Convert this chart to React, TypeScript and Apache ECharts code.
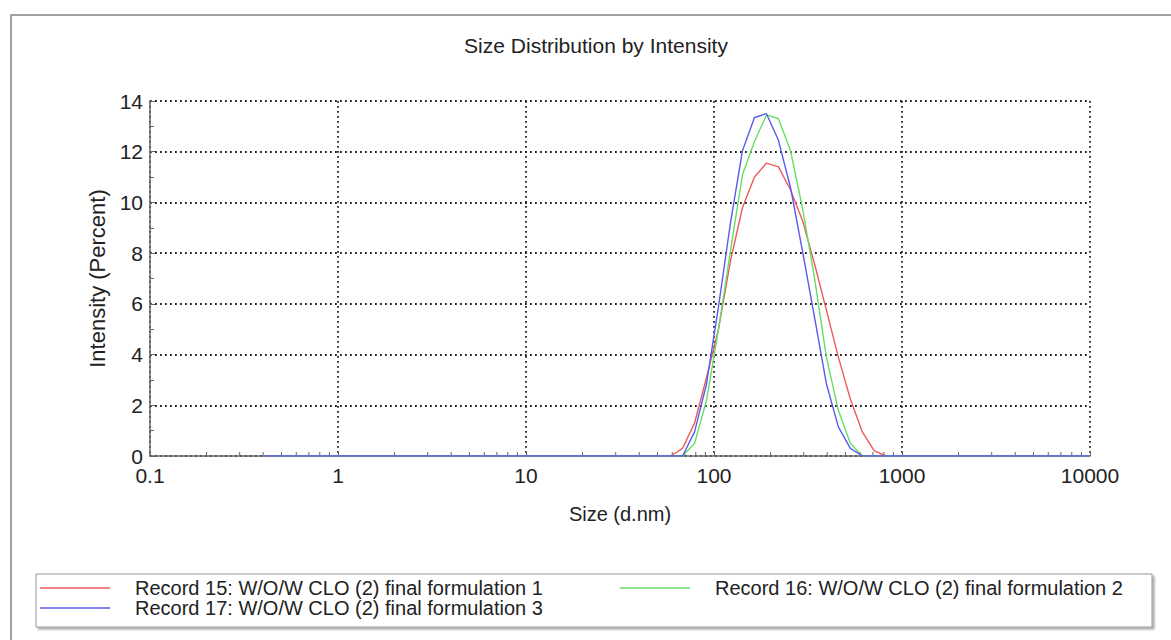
import React, { useEffect, useRef } from "react";
import * as echarts from "echarts";

// Zetasizer size classes (d.nm)
const sizes = [
  0.4, 0.4632, 0.5365, 0.6213, 0.7195, 0.8332, 0.9649, 1.117, 1.294, 1.499,
  1.736, 2.01, 2.328, 2.696, 3.122, 3.615, 4.187, 4.849, 5.615, 6.503,
  7.531, 8.721, 10.1, 11.7, 13.54, 15.69, 18.17, 21.04, 24.36, 28.21,
  32.67, 37.84, 43.82, 50.75, 58.77, 68.06, 78.82, 91.28, 105.7, 122.4,
  141.8, 164.2, 190.1, 220.2, 255.0, 295.3, 342.0, 396.1, 458.7, 531.2,
  615.1, 712.4, 825.0, 955.4, 1106, 1281, 1484, 1718, 1990, 2305,
  2669, 3091, 3580, 4145, 4801, 5560, 6439, 7456, 8635, 10000,
];

// Intensity (Percent)
const record15 = [
  0, 0, 0, 0, 0, 0, 0, 0, 0, 0,
  0, 0, 0, 0, 0, 0, 0, 0, 0, 0,
  0, 0, 0, 0, 0, 0, 0, 0, 0, 0,
  0, 0, 0, 0, 0, 0.3, 1.3, 3.1, 5.0, 7.7,
  9.8, 11.0, 11.55, 11.4, 10.5, 9.3, 7.6, 5.75, 3.9, 2.25,
  0.95, 0.2, 0, 0, 0, 0, 0, 0, 0, 0,
  0, 0, 0, 0, 0, 0, 0, 0, 0, 0,
];
const record16 = [
  0, 0, 0, 0, 0, 0, 0, 0, 0, 0,
  0, 0, 0, 0, 0, 0, 0, 0, 0, 0,
  0, 0, 0, 0, 0, 0, 0, 0, 0, 0,
  0, 0, 0, 0, 0, 0, 0.5, 2.2, 5.0, 8.1,
  11.1, 12.4, 13.45, 13.3, 12.05, 9.8, 7.05, 3.9, 1.8, 0.5,
  0, 0, 0, 0, 0, 0, 0, 0, 0, 0,
  0, 0, 0, 0, 0, 0, 0, 0, 0, 0,
];
const record17 = [
  0, 0, 0, 0, 0, 0, 0, 0, 0, 0,
  0, 0, 0, 0, 0, 0, 0, 0, 0, 0,
  0, 0, 0, 0, 0, 0, 0, 0, 0, 0,
  0, 0, 0, 0, 0, 0, 0.95, 2.85, 5.9, 9.2,
  12.05, 13.35, 13.5, 12.45, 10.6, 8.1, 5.5, 2.85, 1.15, 0.3,
  0, 0, 0, 0, 0, 0, 0, 0, 0, 0,
  0, 0, 0, 0, 0, 0, 0, 0, 0, 0,
];

const seriesNames = [
  "Record 15: W/O/W CLO (2) final formulation 1",
  "Record 16: W/O/W CLO (2) final formulation 2",
  "Record 17: W/O/W CLO (2) final formulation 3",
];
const seriesColors = ["#ee5a5a", "#66dd66", "#5a5aee"];

const titleText = "Size Distribution by Intensity";
const xAxisName = "Size (d.nm)";
const yAxisName = "Intensity (Percent)";
const decades = [0.1, 1, 10, 100, 1000];
const minorMultipliers = [2, 3, 4, 5, 6, 7, 8, 9];

const FONT = "'Liberation Sans', Arial, sans-serif";

export default function App() {
  const ref = useRef<HTMLDivElement>(null);
  useEffect(() => {
    const chart = echarts.init(ref.current!, null, { renderer: "svg" });
    const minorTicks: number[][] = [];
    decades.forEach((d) => minorMultipliers.forEach((m) => minorTicks.push([d * m, 0])));
    const data = [record15, record16, record17];
    const gridLine = { show: true, lineStyle: { color: "#222", width: 1.8, type: [1.8, 3.2] as any } };
    chart.setOption({
      animation: false,
      backgroundColor: "#fff",
      textStyle: { fontFamily: FONT },
      grid: { left: 150, right: 81, top: 101, bottom: 184 },
      graphic: [
        {
          type: "rect",
          z: -1,
          shape: { x: 11, y: 15, width: 1200, height: 700 },
          style: { fill: "none", stroke: "#a0a0a0", lineWidth: 2 },
        },
        {
          type: "text",
          x: 596,
          y: 45,
          style: {
            text: titleText,
            font: `21px ${FONT}`,
            fill: "#222",
            align: "center",
            verticalAlign: "middle",
          },
        },
        {
          type: "rect",
          z: -1,
          shape: { x: 36, y: 574, width: 1116, height: 53 },
          style: {
            fill: "#fff",
            stroke: "#999",
            lineWidth: 1,
            shadowColor: "rgba(0,0,0,0.35)",
            shadowOffsetX: 2,
            shadowOffsetY: 2,
            shadowBlur: 2,
          },
        },
      ],
      legend: [
        { left: 40, top: 578, data: [seriesNames[0]] },
        { left: 620, top: 578, data: [seriesNames[1]] },
        { left: 40, top: 598, data: [seriesNames[2]] },
      ].map((l) => ({
        ...l,
        padding: 0,
        icon: "rect",
        itemWidth: 70,
        itemHeight: 1.4,
        textStyle: {
          fontSize: 20,
          lineHeight: 19,
          height: 19,
          color: "#222",
          fontFamily: FONT,
          padding: [0, 0, 0, 20],
        },
      })),
      xAxis: {
        type: "log",
        logBase: 10,
        min: 0.1,
        max: 10000,
        name: xAxisName,
        nameLocation: "middle",
        nameGap: 48,
        nameTextStyle: { fontSize: 20, color: "#222", fontFamily: FONT },
        axisLine: { show: true, onZero: false, lineStyle: { color: "#666", width: 1.5 } },
        axisTick: { show: true, inside: true, length: 5, lineStyle: { color: "#666" } },
        axisLabel: {
          fontSize: 21,
          color: "#222",
          margin: 9,
          formatter: (v: number) => String(+v.toPrecision(6)),
        },
        splitLine: gridLine,
      },
      yAxis: {
        type: "value",
        min: 0,
        max: 14,
        interval: 2,
        name: yAxisName,
        nameLocation: "middle",
        nameGap: 40,
        nameTextStyle: { fontSize: 22, color: "#222", fontFamily: FONT },
        axisLine: { show: true, lineStyle: { color: "#666", width: 1.5 } },
        axisTick: { show: true, inside: true, length: 5, lineStyle: { color: "#666" } },
        minorTick: { show: true, splitNumber: 2, length: 4, lineStyle: { color: "#666" } },
        axisLabel: { fontSize: 21, color: "#222", margin: 7 },
        splitLine: gridLine,
      },
      series: [
        ...data.map((vals, i) => ({
          name: seriesNames[i],
          type: "line",
          data: sizes.map((s, j) => [s, vals[j]]),
          showSymbol: false,
          symbol: "none",
          lineStyle: { color: seriesColors[i], width: 1.4 },
          itemStyle: { color: seriesColors[i] },
          z: 3 + i,
        })),
        {
          type: "custom",
          silent: true,
          z: 2,
          data: minorTicks,
          renderItem: (_p: any, api: any) => {
            const pt = api.coord([api.value(0), 0]);
            return {
              type: "line",
              shape: { x1: pt[0], y1: pt[1], x2: pt[0], y2: pt[1] - 4 },
              style: { stroke: "#666", lineWidth: 1 },
            };
          },
        },
      ],
    });
    return () => chart.dispose();
  }, []);
  return <div ref={ref} style={{ position: "absolute", left: 0, top: 0, width: 1171, height: 640 }} />;
}
